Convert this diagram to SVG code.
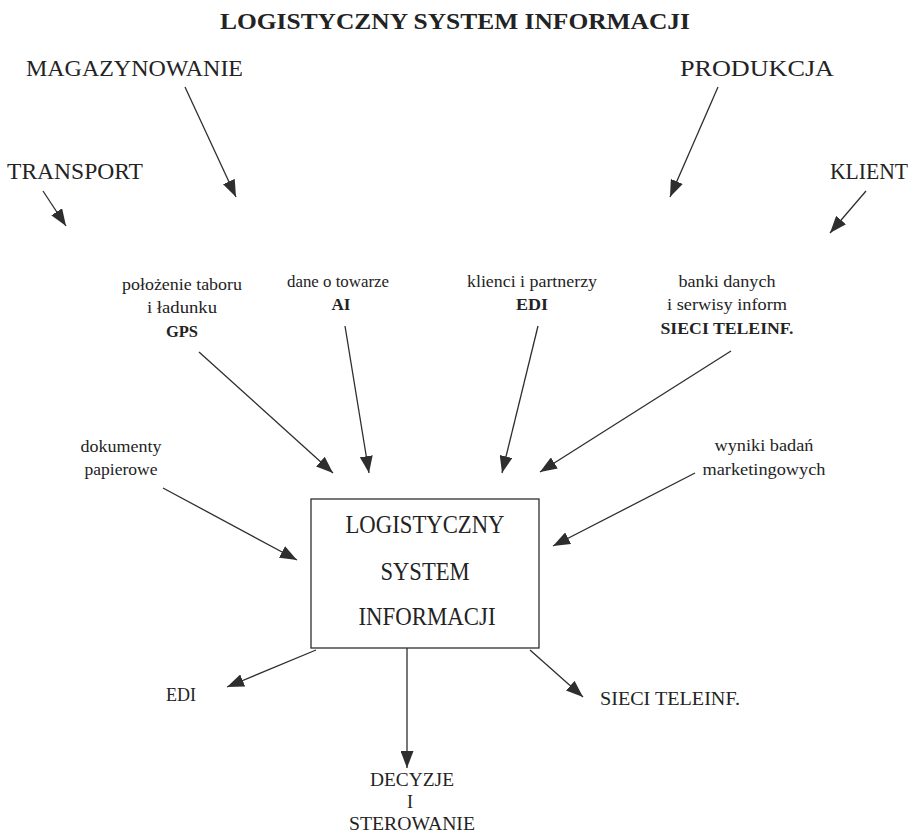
<svg xmlns="http://www.w3.org/2000/svg" width="919" height="837" viewBox="0 0 919 837">
  <style>
    text { font-family: "Liberation Serif", "Times New Roman", serif; fill: #232323; }
    .title { font-size: 23px; font-weight: bold; }
    .big { font-size: 23px; }
    .lab { font-size: 16px; }
    .lab-b { font-size: 16px; font-weight: bold; }
    .box-t { font-size: 25px; }
    .out { font-size: 18px; }
    .conn line { stroke: #2e2e2e; stroke-width: 1.3; marker-end: url(#head); }
    .node rect { fill: #ffffff; stroke: #2e2e2e; stroke-width: 1.3; }
  </style>
  <defs>
    <marker id="head" markerUnits="userSpaceOnUse" markerWidth="18" markerHeight="13" refX="17" refY="6.5" orient="auto">
      <path d="M0,0 L17,6.5 L0,13 z" fill="#2e2e2e"/>
    </marker>
  </defs>

  <rect width="919" height="837" fill="#ffffff"/>

  <!-- heading -->
  <g id="title">
    <text class="title" x="220" y="29" textLength="470" lengthAdjust="spacingAndGlyphs">LOGISTYCZNY SYSTEM INFORMACJI</text>
  </g>

  <!-- outer areas -->
  <g id="magazynowanie" class="node">
    <text class="big" x="26" y="76" textLength="217" lengthAdjust="spacingAndGlyphs">MAGAZYNOWANIE</text>
  </g>
  <g id="produkcja" class="node">
    <text class="big" x="680" y="76" textLength="154" lengthAdjust="spacingAndGlyphs">PRODUKCJA</text>
  </g>
  <g id="transport" class="node">
    <text class="big" x="7" y="179" textLength="136" lengthAdjust="spacingAndGlyphs">TRANSPORT</text>
  </g>
  <g id="klient" class="node">
    <text class="big" x="830" y="179" textLength="78" lengthAdjust="spacingAndGlyphs">KLIENT</text>
  </g>

  <!-- information sources -->
  <g id="gps" class="node" text-anchor="middle">
    <text class="lab" x="182" y="290" textLength="120" lengthAdjust="spacingAndGlyphs">położenie taboru</text>
    <text class="lab" x="182" y="313" textLength="70" lengthAdjust="spacingAndGlyphs">i ładunku</text>
    <text class="lab-b" x="182" y="337" textLength="32" lengthAdjust="spacingAndGlyphs">GPS</text>
  </g>
  <g id="ai" class="node" text-anchor="middle">
    <text class="lab" x="338" y="287" textLength="102" lengthAdjust="spacingAndGlyphs">dane o towarze</text>
    <text class="lab-b" x="341" y="310" textLength="19" lengthAdjust="spacingAndGlyphs">AI</text>
  </g>
  <g id="edi-in" class="node" text-anchor="middle">
    <text class="lab" x="532" y="287" textLength="130" lengthAdjust="spacingAndGlyphs">klienci i partnerzy</text>
    <text class="lab-b" x="532" y="310" textLength="32" lengthAdjust="spacingAndGlyphs">EDI</text>
  </g>
  <g id="sieci-in" class="node" text-anchor="middle">
    <text class="lab" x="727" y="287" textLength="97" lengthAdjust="spacingAndGlyphs">banki danych</text>
    <text class="lab" x="727" y="310" textLength="120" lengthAdjust="spacingAndGlyphs">i serwisy inform</text>
    <text class="lab-b" x="727" y="334" textLength="133" lengthAdjust="spacingAndGlyphs">SIECI TELEINF.</text>
  </g>
  <g id="dokumenty" class="node" text-anchor="middle">
    <text class="lab" x="121" y="452" textLength="81" lengthAdjust="spacingAndGlyphs">dokumenty</text>
    <text class="lab" x="121" y="475" textLength="73" lengthAdjust="spacingAndGlyphs">papierowe</text>
  </g>
  <g id="marketing" class="node" text-anchor="middle">
    <text class="lab" x="764" y="451" textLength="99" lengthAdjust="spacingAndGlyphs">wyniki badań</text>
    <text class="lab" x="764" y="475" textLength="123" lengthAdjust="spacingAndGlyphs">marketingowych</text>
  </g>

  <!-- central system -->
  <g id="system" class="node">
    <rect x="311" y="499" width="228" height="149"/>
    <g text-anchor="middle">
      <text class="box-t" x="425" y="533" textLength="159" lengthAdjust="spacingAndGlyphs">LOGISTYCZNY</text>
      <text class="box-t" x="425" y="580" textLength="89" lengthAdjust="spacingAndGlyphs">SYSTEM</text>
      <text class="box-t" x="427" y="625" textLength="137" lengthAdjust="spacingAndGlyphs">INFORMACJI</text>
    </g>
  </g>

  <!-- outputs -->
  <g id="edi-out" class="node">
    <text class="out" x="166" y="701" textLength="30" lengthAdjust="spacingAndGlyphs">EDI</text>
  </g>
  <g id="sieci-out" class="node">
    <text class="out" x="600" y="705" textLength="140" lengthAdjust="spacingAndGlyphs">SIECI TELEINF.</text>
  </g>
  <g id="decyzje" class="node" text-anchor="middle">
    <text class="out" x="412" y="786" textLength="84" lengthAdjust="spacingAndGlyphs">DECYZJE</text>
    <text class="out" x="410" y="808">I</text>
    <text class="out" x="412" y="830" textLength="126" lengthAdjust="spacingAndGlyphs">STEROWANIE</text>
  </g>

  <!-- connectors -->
  <g id="connectors" class="conn">
    <line x1="185" y1="87" x2="236" y2="197"/>
    <line x1="43" y1="191" x2="66" y2="226"/>
    <line x1="718" y1="87" x2="670" y2="197"/>
    <line x1="866" y1="191" x2="830" y2="233"/>

    <line x1="199" y1="352" x2="333" y2="473"/>
    <line x1="345" y1="326" x2="369" y2="473"/>
    <line x1="538" y1="326" x2="502" y2="473"/>
    <line x1="731" y1="351" x2="540" y2="472"/>
    <line x1="163" y1="488" x2="297" y2="560"/>
    <line x1="695" y1="473" x2="553" y2="546"/>

    <line x1="316" y1="650" x2="227" y2="687"/>
    <line x1="407" y1="648" x2="407" y2="768"/>
    <line x1="530" y1="650" x2="583" y2="697"/>
  </g>
</svg>
